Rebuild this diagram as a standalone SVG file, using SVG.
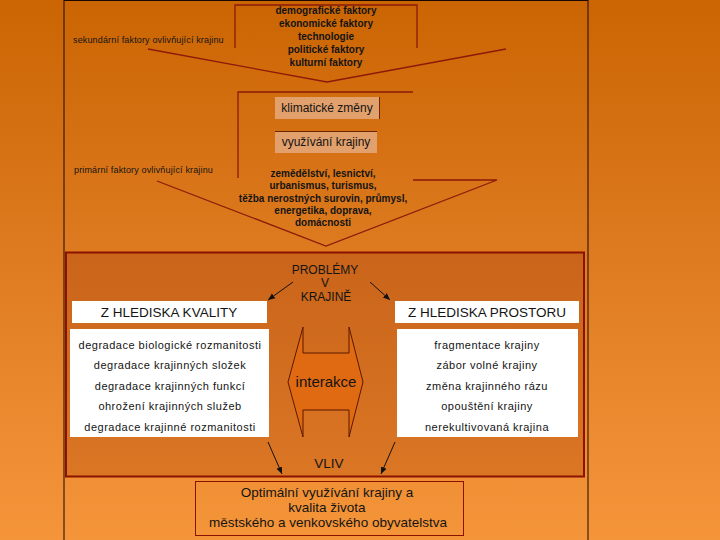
<svg xmlns="http://www.w3.org/2000/svg" width="720" height="540" viewBox="0 0 720 540">
<defs>
<linearGradient id="bg" x1="0" y1="0" x2="0" y2="1">
<stop offset="0" stop-color="#CB6503"/>
<stop offset="0.5" stop-color="#DF7C22"/>
<stop offset="1" stop-color="#F5953A"/>
</linearGradient>
<linearGradient id="boxg" x1="0" y1="0" x2="0" y2="1">
<stop offset="0" stop-color="#C9641A"/>
<stop offset="1" stop-color="#DA7624"/>
</linearGradient>
<marker id="ah" markerWidth="8" markerHeight="8" refX="7" refY="4" orient="auto" markerUnits="userSpaceOnUse">
<path d="M0,1 L7,4 L0,7 Z" fill="#111"/>
</marker>
<style>
.ar{fill:none;stroke:#8B1A0A;stroke-width:1.3}
.t{font-family:"Liberation Sans",Arial,sans-serif;fill:#141414;text-anchor:middle}
.fb{font-size:10px;font-weight:bold}
.sm{font-size:9px;text-anchor:start;letter-spacing:0.15px}
.li{font-size:11px;letter-spacing:0.5px}
.hd{font-size:13.5px}
.tan{fill:#E2A06C}
.wb{fill:#FFFFFF}
.con{fill:none;stroke:#111;stroke-width:1;marker-end:url(#ah)}
</style>
</defs>
<rect x="0" y="0" width="720" height="540" fill="url(#bg)"/>
<rect x="64" y="0.5" width="524" height="545" fill="none" stroke="#1a0800" stroke-width="1"/>

<g id="secondary">
<path class="ar" d="M235,48 V5 H417 V48 M148,49 L327,82 L506,49"/>
<text class="t sm" x="73" y="43">sekundární faktory ovlivňující krajinu</text>
<text class="t fb" x="326" y="14">demografické faktory</text>
<text class="t fb" x="326" y="27">ekonomické faktory</text>
<text class="t fb" x="326" y="40">technologie</text>
<text class="t fb" x="326" y="53">politické faktory</text>
<text class="t fb" x="326" y="66">kulturní faktory</text>
</g>

<g id="primary">
<path class="ar" d="M238,178 V92 H413 M413,180 H497 L326,246 L157,181"/>
<text class="t sm" x="74" y="173">primární faktory ovlivňující krajinu</text>
<text class="t fb" x="323" y="177">zemědělství, lesnictví,</text>
<text class="t fb" x="323" y="189">urbanismus, turismus,</text>
<text class="t fb" x="323" y="202">těžba nerostných surovin, průmysl,</text>
<text class="t fb" x="323" y="214">energetika, doprava,</text>
<text class="t fb" x="323" y="226">domácnosti</text>
</g>

<g id="klima">
<rect class="tan" x="275" y="97" width="105" height="22"/>
<line x1="379.5" y1="97" x2="379.5" y2="119" stroke="#6a2400" stroke-width="1"/>
<text class="t" x="327" y="112" font-size="12">klimatické změny</text>
</g>

<g id="vyuzivani">
<rect class="tan" x="275" y="131" width="102" height="22"/>
<line x1="275" y1="131.5" x2="377" y2="131.5" stroke="#6a2400" stroke-width="1"/>
<text class="t" x="326" y="146" font-size="12">využívání krajiny</text>
</g>

<g id="problemy">
<rect x="66" y="252.5" width="518" height="224" fill="url(#boxg)" stroke="#8B1200" stroke-width="2"/>
<text class="t" x="325" y="274" font-size="12">PROBLÉMY</text>
<text class="t" x="325" y="287" font-size="12">V</text>
<text class="t" x="326" y="301" font-size="12">KRAJINĚ</text>
<text class="t" x="329" y="468" font-size="13.5">VLIV</text>
</g>

<g id="kvalita">
<rect class="wb" x="72" y="301" width="195" height="22"/>
<text class="t hd" x="169" y="317">Z HLEDISKA KVALITY</text>
</g>

<g id="kvalita-list">
<rect class="wb" x="70" y="329" width="199" height="108"/>
<text class="t li" x="170" y="349">degradace biologické rozmanitosti</text>
<text class="t li" x="170" y="369">degradace krajinných složek</text>
<text class="t li" x="170" y="390">degradace krajinných funkcí</text>
<text class="t li" x="170" y="410">ohrožení krajinných služeb</text>
<text class="t li" x="170" y="431">degradace krajinné rozmanitosti</text>
</g>

<g id="prostor">
<rect class="wb" x="395" y="301" width="184" height="22"/>
<text class="t hd" x="487" y="317">Z HLEDISKA PROSTORU</text>
</g>

<g id="prostor-list">
<rect class="wb" x="397" y="329" width="181" height="108"/>
<text class="t li" x="487" y="349">fragmentace krajiny</text>
<text class="t li" x="487" y="369">zábor volné krajiny</text>
<text class="t li" x="487" y="390">změna krajinného rázu</text>
<text class="t li" x="487" y="410">opouštění krajiny</text>
<text class="t li" x="487" y="431">nerekultivovaná krajina</text>
</g>

<g id="interakce">
<path d="M303,327 V353 H349 V327 L363,382 L349,437 V410 H303 V437 L288,382 Z" fill="#E06A12" stroke="#5a1800" stroke-width="1"/>
<text class="t" x="326" y="387" font-size="15">interakce</text>
</g>

<g id="optimalni">
<rect x="195.5" y="481.5" width="268" height="54" fill="none" stroke="#8B1200" stroke-width="1"/>
<text class="t" x="327" y="497" font-size="13.5">Optimální využívání krajiny a</text>
<text class="t" x="327" y="512" font-size="13.5">kvalita života</text>
<text class="t" x="328" y="527" font-size="13.5">městského a venkovského obyvatelstva</text>
</g>

<g id="connectors">
<line class="con" x1="293" y1="282" x2="268" y2="300"/>
<line class="con" x1="370" y1="282" x2="390" y2="300"/>
<line class="con" x1="268" y1="442" x2="282" y2="474"/>
<line class="con" x1="395" y1="442" x2="381" y2="474"/>
</g>
</svg>
